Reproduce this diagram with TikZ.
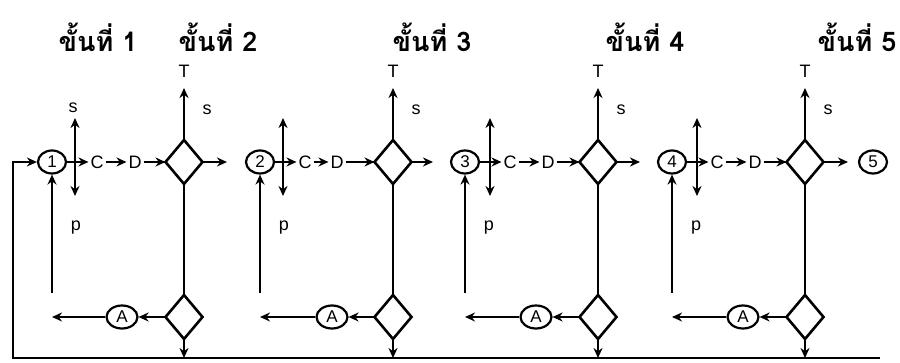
\documentclass[tikz,border=0pt]{standalone}
\usepackage{fontspec}
\setmainfont{Liberation Sans}
\newfontfamily\thaifont[Script=Thai]{Loma}
\usetikzlibrary{shapes.geometric,arrows.meta}

\begin{document}
\begin{tikzpicture}[x=1pt,y=-1pt,line width=2pt,
  tip/.style={-{Stealth[length=10pt,width=9pt]}},
  bitip/.style={{Stealth[length=10pt,width=9pt]}-{Stealth[length=10pt,width=9pt]}},
  gate/.style={diamond,draw,line width=2.6pt,minimum width=37pt,minimum height=44pt,inner sep=0pt,outer sep=0pt},
  stage/.style={ellipse,draw,line width=2.2pt,minimum width=28pt,minimum height=23pt,inner sep=0pt,font=\fontsize{17}{17}\selectfont},
  labl/.style={inner sep=1pt,font=\fontsize{18}{18}\selectfont},
  title/.style={anchor=base,inner sep=1pt,text depth=1pt,font=\thaifont\bfseries\fontsize{27}{27}\selectfont}
]
\useasboundingbox (0,0) rectangle (900,363);

% step headings
\node[title] (h1) at (98,52) {ขั้นที่ 1};
\node[title] (h2) at (218,52) {ขั้นที่ 2};
\node[title] (h3) at (432,52) {ขั้นที่ 3};
\node[title] (h4) at (645,52) {ขั้นที่ 4};
\node[title] (h5) at (857,52) {ขั้นที่ 5};

% one block per step: state circle, C, D, decision diamonds, A
\foreach \i/\cx/\vx/\Cx/\Dx/\dx/\ox/\ax in {
    1/52/75/97/135/184/227/122,
    2/260/283/305/337/393/433/332,
    3/465/490/510/548/598/640/536,
    4/672/697/717/755/805/848/743} {
  \node[stage] (c\i) at (\cx,162) {\i};
  \node[labl] (C\i) at (\Cx,162) {C};
  \node[labl] (D\i) at (\Dx,162) {D};
  \node[gate] (U\i) at (\dx,162) {};
  \node[gate] (L\i) at (\dx,317) {};
  \node[stage,minimum width=31pt] (A\i) at (\ax,317) {A};
  \node[labl] (T\i) at (\dx,71) {T};
  \node[labl] (s\i) at (\dx+23,110) {s};
  \node[labl] (p\i) at (\cx+24,228) {p};
  \coordinate (st\i) at (\vx,118);
  \coordinate (sb\i) at (\vx,196);
  \coordinate (tt\i) at (\dx,88);
  \coordinate (o\i) at (\ox,162);
  \coordinate (pb\i) at (\cx,293);
  \coordinate (lo\i) at (\cx,317);
  \coordinate (b\i) at (\dx,358);
  \draw[bitip] (sb\i) -- (st\i);
  \draw[tip] (c\i) -- (C\i);
  \draw[tip] (C\i) -- (D\i);
  \draw[tip] (D\i) -- (U\i);
  \draw[tip] (U\i.north) -- (tt\i);
  \draw[tip] (U\i.east) -- (o\i);
  \draw (U\i.south) -- (L\i.north);
  \draw[tip] (L\i.west) -- (A\i);
  \draw[tip] (A\i) -- (lo\i);
  \draw[tip] (L\i.south) -- (b\i);
  \draw[tip] (pb\i) -- (c\i.south);
}
\node[labl] (s0) at (73,108) {s};
\node[stage] (c5) at (873,162) {5};

% feedback line back to the first state
\coordinate (fbR) at (880,358);
\coordinate (fbL) at (13,358);
\draw[tip] (fbR) -- (fbL) |- (c1.west);
\end{tikzpicture}
\end{document}
